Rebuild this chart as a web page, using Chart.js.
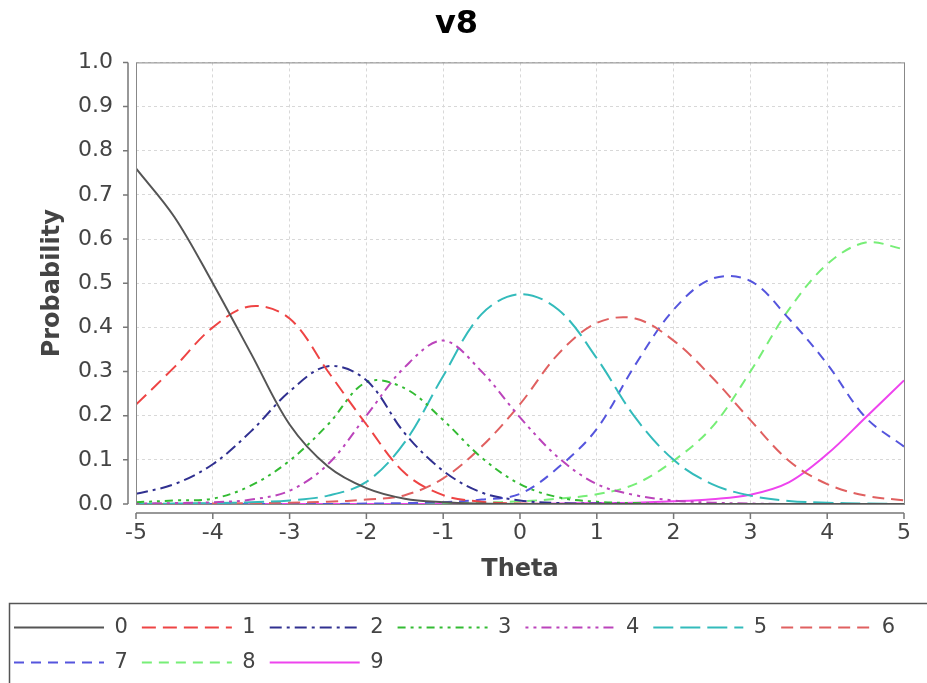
<!DOCTYPE html>
<html>
<head>
<meta charset="utf-8">
<script src="https://cdn.jsdelivr.net/npm/chart.js@4"></script>
<style>
  html, body { margin: 0; padding: 0; background: #fff; }
  #wrap { width: 927px; height: 683px; position: relative; }
</style>
</head>
<body>
<div id="wrap"><canvas id="chart"></canvas></div>
<script>
const theta = [-5, -4.5, -4, -3.5, -3, -2.5, -2, -1.5, -1, -0.5, 0, 0.5, 1, 1.5, 2, 2.5, 3, 3.5, 4, 4.5, 5];
const p0 = [0.76, 0.65, 0.50, 0.34, 0.18, 0.085, 0.036, 0.012, 0.004, 0.001, 0, 0, 0, 0, 0, 0, 0, 0, 0, 0, 0];
const p1 = [0.225, 0.31, 0.40, 0.448, 0.42, 0.30, 0.18, 0.07, 0.02, 0.005, 0.001, 0, 0, 0, 0, 0, 0, 0, 0, 0, 0];
const p2 = [0.023, 0.045, 0.09, 0.165, 0.255, 0.312, 0.28, 0.16, 0.075, 0.026, 0.008, 0.002, 0.001, 0, 0, 0, 0, 0, 0, 0, 0];
const p3 = [0.004, 0.008, 0.012, 0.042, 0.098, 0.18, 0.276, 0.262, 0.19, 0.105, 0.045, 0.015, 0.005, 0.002, 0, 0, 0, 0, 0, 0, 0];
const p4 = [0.001, 0.002, 0.004, 0.01, 0.03, 0.09, 0.20, 0.31, 0.37, 0.30, 0.196, 0.105, 0.045, 0.02, 0.008, 0.003, 0.001, 0, 0, 0, 0];
const p5 = [0, 0.001, 0.002, 0.004, 0.008, 0.019, 0.05, 0.14, 0.29, 0.43, 0.475, 0.44, 0.33, 0.196, 0.10, 0.045, 0.019, 0.007, 0.003, 0.001, 0];
const p6 = [0, 0, 0.001, 0.002, 0.003, 0.005, 0.01, 0.02, 0.058, 0.13, 0.226, 0.34, 0.41, 0.42, 0.37, 0.287, 0.19, 0.098, 0.045, 0.019, 0.008];
const p7 = [0, 0, 0, 0, 0, 0, 0.001, 0.002, 0.004, 0.01, 0.023, 0.083, 0.17, 0.315, 0.44, 0.51, 0.505, 0.42, 0.317, 0.196, 0.13];
const p8 = [0, 0, 0, 0, 0, 0, 0, 0, 0.001, 0.003, 0.006, 0.012, 0.022, 0.045, 0.098, 0.174, 0.30, 0.44, 0.543, 0.592, 0.577];
const p9 = [0, 0, 0, 0, 0, 0, 0, 0, 0, 0, 0, 0.001, 0.002, 0.003, 0.006, 0.011, 0.021, 0.049, 0.113, 0.196, 0.28];

const seriesNames = ['0', '1', '2', '3', '4', '5', '6', '7', '8', '9'];
const seriesValues = [p0, p1, p2, p3, p4, p5, p6, p7, p8, p9];
const colors = ['#555555', '#ee4444', '#303090', '#33bb33', '#bb44bb', '#33bbbb', '#e06060', '#5555dd', '#77ee77', '#ee44ee'];
const dashes = [[], [14, 7], [12, 5, 3, 5], [8, 5, 3, 5, 3, 5], [3, 5, 3, 5, 10, 5], [20, 7], [12, 7], [10, 7], [10, 7], []];

const datasets = seriesValues.map((vals, i) => ({
    label: seriesNames[i],
    data: theta.map((t, j) => ({ x: t, y: vals[j] })),
    borderColor: colors[i],
    backgroundColor: colors[i],
    borderWidth: 2,
    borderDash: dashes[i],
    pointRadius: 0,
    fill: false,
    tension: 0.35
}));

// plot frame, offset axis lines and the box round the legend
const frame = {
    id: 'frame',
    afterDraw(chart) {
        const ctx = chart.ctx;
        const a = chart.chartArea;
        const xs = chart.scales.x, ys = chart.scales.y;
        ctx.save();
        ctx.strokeStyle = '#888';
        ctx.lineWidth = 1;
        ctx.strokeRect(a.left + 0.5, a.top + 0.5, a.right - a.left, a.bottom - a.top);

        ctx.strokeStyle = '#777';
        ctx.lineWidth = 1.5;
        const ax = a.left - 8;
        ctx.beginPath();
        ctx.moveTo(ax, a.top);
        ctx.lineTo(ax, a.bottom);
        ys.ticks.forEach(t => {
            const y = ys.getPixelForValue(t.value);
            ctx.moveTo(ax - 5, y);
            ctx.lineTo(ax, y);
        });
        const ay = a.bottom + 9;
        ctx.moveTo(a.left, ay);
        ctx.lineTo(a.right, ay);
        xs.ticks.forEach(t => {
            const x = xs.getPixelForValue(t.value);
            ctx.moveTo(x, ay);
            ctx.lineTo(x, ay + 6);
        });
        ctx.stroke();

        const lg = chart.legend;
        ctx.strokeStyle = '#555';
        ctx.lineWidth = 1.5;
        ctx.strokeRect(9.5, lg.top + 0.5, chart.width, lg.height + 5);
        ctx.restore();
    }
};

new Chart(document.getElementById('chart').getContext('2d'), {
    type: 'line',
    data: { datasets: datasets },
    plugins: [frame],
    options: {
        responsive: true,
        maintainAspectRatio: false,
        animation: false,
        layout: { padding: { right: 14 } },
        plugins: {
            title: {
                display: true,
                text: 'v8',
                color: '#000',
                font: { family: 'DejaVu Sans', size: 32, weight: 'bold' },
                padding: { top: 5, bottom: 19 }
            },
            legend: {
                position: 'bottom',
                align: 'start',
                labels: {
                    usePointStyle: true,
                    pointStyle: 'line',
                    pointStyleWidth: 90,
                    boxWidth: 90,
                    padding: 14,
                    color: '#444',
                    font: { family: 'DejaVu Sans', size: 21 },
                    generateLabels: chart => {
                        const items = Chart.defaults.plugins.legend.labels.generateLabels(chart);
                        items.forEach(it => {
                            const ds = chart.data.datasets[it.datasetIndex];
                            it.lineDash = ds.borderDash;
                            it.lineWidth = ds.borderWidth;
                            it.strokeStyle = ds.borderColor;
                        });
                        return items;
                    }
                }
            },
            tooltip: { enabled: false }
        },
        scales: {
            x: {
                type: 'linear',
                min: -5,
                max: 5,
                afterFit: s => { s.height = 99; },
                ticks: {
                    stepSize: 1,
                    padding: 16,
                    color: '#444',
                    font: { family: 'DejaVu Sans', size: 22 }
                },
                grid: { color: '#d8d8d8', drawTicks: false },
                border: { display: false, dash: [3, 3] },
                title: {
                    display: true,
                    text: 'Theta',
                    color: '#444',
                    font: { family: 'DejaVu Sans', size: 24, weight: 'bold' },
                    padding: { top: 0, bottom: 19 }
                }
            },
            y: {
                min: 0,
                max: 1,
                afterFit: s => { s.width = 136; },
                ticks: {
                    stepSize: 0.1,
                    padding: 23,
                    color: '#444',
                    font: { family: 'DejaVu Sans', size: 22 },
                    callback: v => v.toFixed(1)
                },
                grid: { color: '#d8d8d8', drawTicks: false },
                border: { display: false, dash: [3, 3] },
                title: {
                    display: true,
                    text: 'Probability',
                    color: '#444',
                    font: { family: 'DejaVu Sans', size: 24, weight: 'bold' },
                    padding: { top: 38, bottom: 0 }
                }
            }
        }
    }
});
</script>
</body>
</html>
